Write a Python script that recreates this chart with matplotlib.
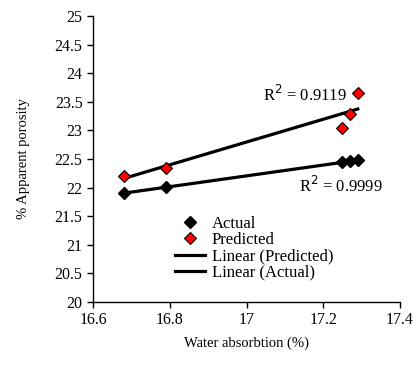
import numpy as np
import matplotlib
matplotlib.use("Agg")
import matplotlib.pyplot as plt

plt.rcParams['font.family'] = ['Liberation Serif', 'DejaVu Serif']

water_abs = [16.68, 16.79, 17.25, 17.27, 17.29]
actual = [21.90, 22.01, 22.44, 22.46, 22.48]
predicted = [22.20, 22.35, 23.05, 23.29, 23.65]
r2_pred = "R$^2$ = 0.9119"
r2_act = "R$^2$ = 0.9999"

fig = plt.figure(figsize=(4.13, 3.72), dpi=100)
ax = fig.add_axes([93/413, 1-302/372, (400-93)/413, (302-16)/372])

x = np.array(water_abs)
pa = np.polyfit(x, actual, 1)
pp = np.polyfit(x, predicted, 1)
xx = np.array([x.min(), x.max()])

ax.plot(x, actual, linestyle='none', marker='D', ms=6.5, color='black', label='Actual', zorder=3)
ax.plot(x, predicted, linestyle='none', marker='D', ms=6.5, markerfacecolor='red',
        markeredgecolor='black', markeredgewidth=0.8, label='Predicted', zorder=3)
ax.plot(xx, np.polyval(pp, xx), color='black', lw=2.3, label='Linear (Predicted)', zorder=2)
ax.plot(xx, np.polyval(pa, xx), color='black', lw=2.3, label='Linear (Actual)', zorder=2)

ax.text(17.262, 23.62, r2_pred, ha='right', va='center', fontsize=12)
ax.text(17.137, 22.03, r2_act, ha='left', va='center', fontsize=12)

ax.set_xlim(16.6, 17.4)
ax.set_ylim(20, 25)
ax.set_xticks([16.6, 16.8, 17.0, 17.2, 17.4])
ax.set_xticklabels(['16.6', '16.8', '17', '17.2', '17.4'])
ax.set_yticks(np.arange(20, 25.01, 0.5))
ax.set_yticklabels(['20', '20.5', '21', '21.5', '22', '22.5', '23', '23.5', '24', '24.5', '25'])
ax.tick_params(labelsize=11.5, direction='out', length=4, width=1, color='black')
for s in ['top', 'right']:
    ax.spines[s].set_visible(False)
for s in ['left', 'bottom']:
    ax.spines[s].set_linewidth(1)

ax.set_xlabel('Water absorbtion (%)', fontsize=10.5, labelpad=6)
ax.set_ylabel('% Apparent porosity', fontsize=10.5, labelpad=18)

leg = ax.legend(loc='lower left', bbox_to_anchor=(0.24, 0.045), frameon=False, fontsize=12,
                handlelength=1.8, handletextpad=0.4, labelspacing=0.02, borderpad=0)

fig.savefig('out.png', dpi=100)
